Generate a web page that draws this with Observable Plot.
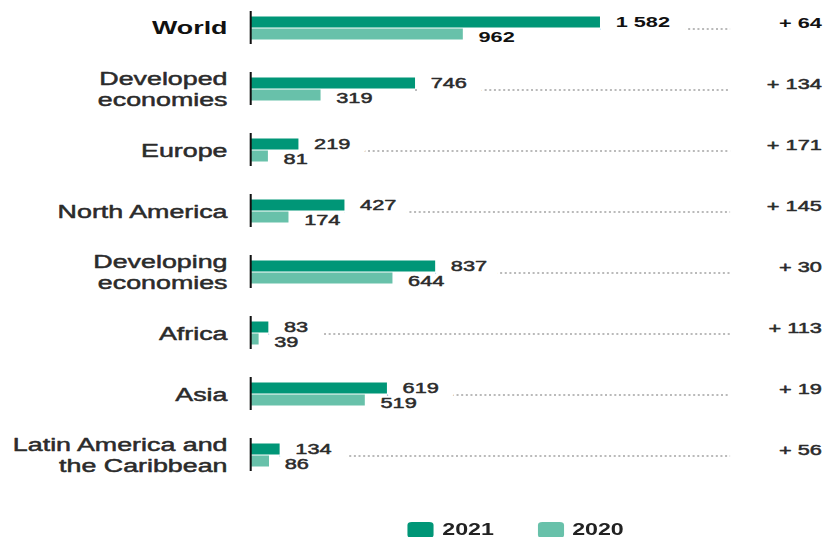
<!DOCTYPE html>
<html><head><meta charset="utf-8">
<script src="https://cdn.jsdelivr.net/npm/d3@7"></script>
<script src="https://cdn.jsdelivr.net/npm/@observablehq/plot@0.6"></script>
<style>
html,body{margin:0;padding:0;background:#fff;overflow:hidden;}
#wrap{position:relative;width:569px;height:537px;transform:scaleX(1.45);transform-origin:0 0;font-family:"Liberation Sans",Arial,sans-serif;}
#legend{position:absolute;top:522px;left:281px;display:flex;align-items:center;font-weight:bold;font-size:16px;line-height:16px;color:#222;}
.sw{width:18px;height:16px;border-radius:3px;margin-right:6px;}
.item{display:flex;align-items:center;margin-right:30px;}
</style></head><body><div id="wrap"></div>
<script>
const regions = ["World","Developed economies","Europe","North America","Developing economies","Africa","Asia","Latin America and the Caribbean"];
const regionLabels = ["World","Developed\neconomies","Europe","North America","Developing\neconomies","Africa","Asia","Latin America and\nthe Caribbean"];
const years = ["2021","2020"];
const values2021 = [1582,746,219,427,837,83,619,134];
const values2020 = [962,319,81,174,644,39,519,86];
const changes = [64,134,171,145,30,113,19,56];
const colors = ["#009677","#68c1aa"];

const fmt = n => String(n).replace(/\B(?=(\d{3})+(?!\d))/g, " ");
const rows = [];
regions.forEach((r,i) => {
  rows.push({region:r, year:"2021", value:values2021[i]});
  rows.push({region:r, year:"2020", value:values2020[i]});
});
const info = regions.map((r,i) => ({region:r, label:regionLabels[i], change:changes[i]}));
const isW = d => d.region === "World";
const notW = d => d.region !== "World";
const r21 = rows.filter(d => d.year === "2021");
const r20 = rows.filter(d => d.year === "2020");
const xMax = 2170;
const font = '"Liberation Sans", Arial, sans-serif';
const txt = "#2b2b2b";

function valueLabels(data, dy, bold) {
  return Plot.text(data, {fy:"region", y:"year", x:"value", text: d => fmt(d.value), dx:10.3, dy, textAnchor:"start", fontSize:15,
    fontWeight: bold ? "bold" : "normal", fill: bold ? "#111" : txt, stroke: bold ? "none" : txt, strokeWidth: 0.5});
}

const chart = Plot.plot({
  width: 569, height: 480,
  marginLeft: 172.4, marginRight: 65.5, marginTop: 9.5, marginBottom: 7.5,
  x: {domain:[0, xMax], axis:null},
  y: {domain: years, axis:null, paddingInner:0.115, paddingOuter:0.33},
  fy: {domain: regions, axis:null, paddingInner:0.455, paddingOuter:0},
  color: {domain: years, range: colors},
  style: {fontFamily: font, background:"#fff"},
  marks: [
    Plot.ruleY(r21, {fy:"region", y:"year", x1:"value", x2: () => xMax, dy:6.5, stroke:"#777", strokeWidth:1, strokeDasharray:"1.4,1.8"}),
    Plot.text(r21, {fy:"region", y:"year", x:"value", text: d => fmt(d.value), dx:10.3, textAnchor:"start", fontSize:15, fill:"white", stroke:"white", strokeWidth:24}),
    Plot.barX(rows, {fy:"region", y:"year", x:"value", fill:"year"}),
    Plot.ruleX([0], {stroke:"#111", strokeWidth:1.4}),
    valueLabels(r21.filter(isW), 0, true),
    valueLabels(r21.filter(notW), 0, false),
    valueLabels(r20.filter(isW), 2.5, true),
    valueLabels(r20.filter(notW), 2.5, false),
    Plot.text(info.filter(isW), {fy:"region", frameAnchor:"left", textAnchor:"end", dx:-16, text:"label", fontSize:18.5, fontWeight:"bold", fill:"#111"}),
    Plot.text(info.filter(notW), {fy:"region", frameAnchor:"left", textAnchor:"end", dx:-16, text:"label", fontSize:18.5, lineHeight:1.12, fill:txt, stroke:txt, strokeWidth:0.5}),
    Plot.text(info.filter(isW), {fy:"region", frameAnchor:"right", textAnchor:"end", dx:62.8, dy:-4.5, text: d => "+ " + d.change, fontSize:15, fontWeight:"bold", fill:"#111"}),
    Plot.text(info.filter(notW), {fy:"region", frameAnchor:"right", textAnchor:"end", dx:62.8, dy:-4.5, text: d => "+ " + d.change, fontSize:15, fill:txt, stroke:txt, strokeWidth:0.5})
  ]
});
const wrap = document.getElementById("wrap");
wrap.appendChild(chart);
const legend = document.createElement("div");
legend.id = "legend";
years.forEach((y,i) => {
  const it = document.createElement("div");
  it.className = "item";
  const sw = document.createElement("div");
  sw.className = "sw";
  sw.style.background = colors[i];
  const t = document.createElement("span");
  t.textContent = y;
  it.appendChild(sw); it.appendChild(t);
  legend.appendChild(it);
});
wrap.appendChild(legend);
</script></body></html>
